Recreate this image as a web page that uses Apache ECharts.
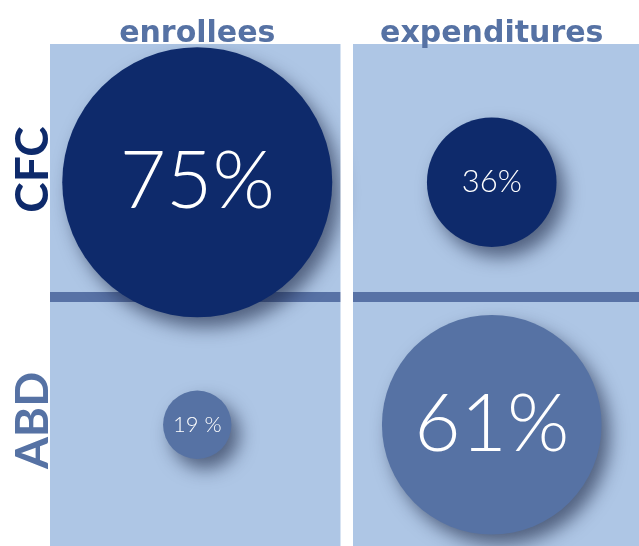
<!DOCTYPE html>
<html>
<head>
<meta charset="utf-8">
<script src="https://cdn.jsdelivr.net/npm/echarts@6/dist/echarts.min.js"></script>
<style>
  html, body { margin: 0; padding: 0; background: #fff; }
  #main { width: 639px; height: 546px; }
</style>
</head>
<body>
<div id="main"></div>
<script>
// 列 / 行
const columns = ['enrollees', 'expenditures'];
const rows = ['ABD', 'CFC'];
// 各单元的百分比 (按 columns 顺序)
const cfcShares = [75, 36];
const abdShares = [19, 61];
const cfcLabels = ['75%', '36%'];
const abdLabels = ['19 %', '61%'];

const navy = '#0e2a6b';
const slate = '#5672a4';
const panelBg = '#aec6e5';

// 半径和数值成正比
const sizeOf = (v) => v * 3.6;
const labelSize = (v) => (v > 50 ? 80 : v > 30 ? 31 : 22);

const buildData = (row, shares, labels) =>
  columns.map((c, i) => ({
    value: [c, row, shares[i]],
    label: { formatter: labels[i], fontSize: labelSize(shares[i]) },
  }));

const myChart = echarts.init(document.getElementById('main'));

const bubbleStyle = (color) => ({
  color: color,
  opacity: 1,
  shadowBlur: 18,
  shadowOffsetX: 8,
  shadowOffsetY: 10,
  shadowColor: 'rgba(20,30,60,0.6)',
});

const bubbleLabel = {
  show: true,
  position: 'inside',
  color: '#fff',
  fontFamily: 'Lato',
  fontWeight: 300,
};

const option = {
  animation: false,
  grid: [
    { left: 50, right: 0, top: 44, bottom: 0 },   // 面板 + 标签
    { left: 50, right: 0, top: 61, height: 490 }, // 气泡
  ],
  xAxis: [
    {
      gridIndex: 0,
      type: 'category',
      position: 'top',
      data: columns,
      axisLine: { show: false },
      axisTick: { show: false },
      axisLabel: {
        color: slate,
        fontFamily: 'DejaVu Sans',
        fontWeight: 'bold',
        fontSize: 30,
        margin: -5,
      },
    },
    { gridIndex: 1, type: 'category', data: columns, show: false },
  ],
  yAxis: [
    {
      gridIndex: 0,
      type: 'category',
      data: [
        { value: 'ABD', textStyle: { color: slate } },
        { value: 'CFC', textStyle: { color: navy } },
      ],
      axisLine: { show: false },
      axisTick: { show: false },
      axisLabel: {
        rotate: 90,
        fontFamily: 'Lato',
        fontWeight: 'bold',
        fontSize: 46,
        margin: -6,
      },
    },
    { gridIndex: 1, type: 'category', data: rows, show: false },
  ],
  graphic: [
    { type: 'rect', z: 0, shape: { x: 50, y: 44, width: 589, height: 502 }, style: { fill: panelBg } },
    { type: 'rect', z: 0, shape: { x: 50, y: 292, width: 589, height: 10 }, style: { fill: '#5872a6' } },
    // 两列之间的白缝 (盖住阴影)
    { type: 'rect', z: 100, shape: { x: 340.5, y: 44, width: 12.5, height: 502 }, style: { fill: '#fff' } },
  ],
  series: [
    {
      name: 'CFC',
      type: 'scatter',
      xAxisIndex: 1,
      yAxisIndex: 1,
      symbolSize: (val) => sizeOf(val[2]),
      itemStyle: bubbleStyle(navy),
      label: bubbleLabel,
      data: buildData('CFC', cfcShares, cfcLabels),
    },
    {
      name: 'ABD',
      type: 'scatter',
      xAxisIndex: 1,
      yAxisIndex: 1,
      symbolSize: (val) => sizeOf(val[2]),
      itemStyle: bubbleStyle(slate),
      label: bubbleLabel,
      data: buildData('ABD', abdShares, abdLabels),
    },
  ],
};

myChart.setOption(option);
window.addEventListener('resize', () => {
  myChart.resize();
});
</script>
</body>
</html>
